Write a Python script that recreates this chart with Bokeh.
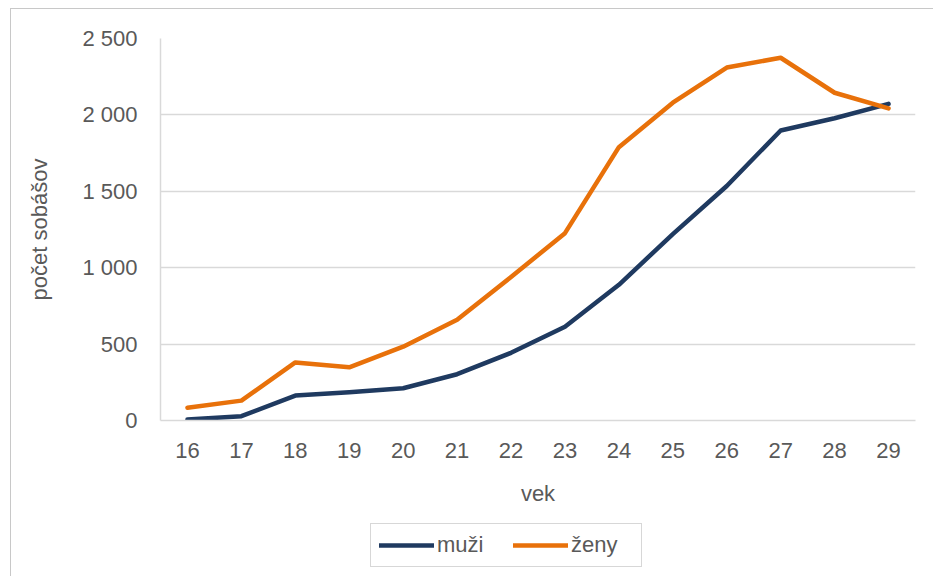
from bokeh.plotting import figure
from bokeh.models import FactorRange, Range1d, FixedTicker, Legend, LegendItem
from bokeh.layouts import column
from bokeh.embed import file_html
from bokeh.resources import INLINE

# data
ages = ["16", "17", "18", "19", "20", "21", "22", "23", "24", "25", "26", "27", "28", "29"]
muzi = [6, 28, 163, 185, 211, 303, 443, 613, 888, 1220, 1535, 1898, 1978, 2072]
zeny = [83, 130, 380, 348, 483, 659, 939, 1226, 1789, 2080, 2310, 2374, 2145, 2043]
y_ticks = [0, 500, 1000, 1500, 2000, 2500]
y_tick_labels = ["0", "500", "1 000", "1 500", "2 000", "2 500"]
series_names = ["muži", "ženy"]
colors = ["#1F3A60", "#E8710A"]

FONT = "Liberation Sans"
GRAY = "#595959"
LIGHT = "#d9d9d9"
LW = 4.5
NAN = float("nan")

p = figure(
    width=922, height=506,
    x_range=FactorRange(*ages, range_padding=0),
    y_range=Range1d(0, 2500),
    output_backend="svg", toolbar_location=None,
    min_border_left=149, min_border_right=18, min_border_top=29, min_border_bottom=95,
)
p.outline_line_color = None
p.background_fill_color = "white"
p.border_fill_color = "white"

p.line(ages, muzi, line_color=colors[0], line_width=LW, line_cap="round", line_join="round")
p.line(ages, zeny, line_color=colors[1], line_width=LW, line_cap="round", line_join="round")

# axes
p.yaxis.ticker = FixedTicker(ticks=y_ticks)
p.yaxis.major_label_overrides = {t: l for t, l in zip(y_ticks, y_tick_labels)}
for ax in (p.xaxis[0], p.yaxis[0]):
    ax.major_tick_line_color = None
    ax.minor_tick_line_color = None
    ax.axis_line_color = LIGHT
    ax.axis_line_width = 1.5
    ax.major_label_text_font = FONT
    ax.major_label_text_font_size = "22px"
    ax.major_label_text_color = GRAY
    ax.axis_label_text_font = FONT
    ax.axis_label_text_font_size = "22px"
    ax.axis_label_text_color = GRAY
    ax.axis_label_text_font_style = "normal"

p.xaxis.axis_label = "vek"
p.yaxis.axis_label = "počet sobášov"
p.xaxis.major_label_standoff = 16
p.xaxis.axis_label_standoff = 20
p.yaxis.major_label_standoff = 17
p.yaxis.axis_label_standoff = 27

p.xgrid.grid_line_color = None
p.ygrid.grid_line_color = LIGHT
p.ygrid.grid_line_width = 1.5

# legend strip below the chart
q = figure(
    width=922, height=61,
    x_range=Range1d(0, 1), y_range=Range1d(0, 1),
    output_backend="svg", toolbar_location=None,
    min_border=0,
)
q.axis.visible = False
q.grid.grid_line_color = None
q.outline_line_color = None
q.background_fill_color = "white"
q.border_fill_color = "white"
lr1 = q.line([NAN], [NAN], line_color=colors[0], line_width=LW, line_cap="round")
lr2 = q.line([NAN], [NAN], line_color=colors[1], line_width=LW, line_cap="round")

legend = Legend(
    items=[LegendItem(label=series_names[0], renderers=[lr1]),
           LegendItem(label=series_names[1], renderers=[lr2])],
    orientation="horizontal",
    location=(210, 9),
    border_line_color="#b0b0b0",
    border_line_width=1.5,
    background_fill_alpha=1,
    label_text_font=FONT,
    label_text_font_size="22px",
    label_text_color=GRAY,
    glyph_width=55,
    label_standoff=3,
    label_width=62,
    spacing=14,
    padding=8,
    margin=0,
    label_height=20,
    glyph_height=20,
)
q.add_layout(legend, "center")

layout = column(p, q, spacing=0,
                styles={"border-left": "1px solid #c8c8c8", "border-top": "1px solid #c8c8c8",
                        "margin-left": "10px", "margin-top": "8px"})

open("out.html", "w").write(file_html(layout, INLINE))
